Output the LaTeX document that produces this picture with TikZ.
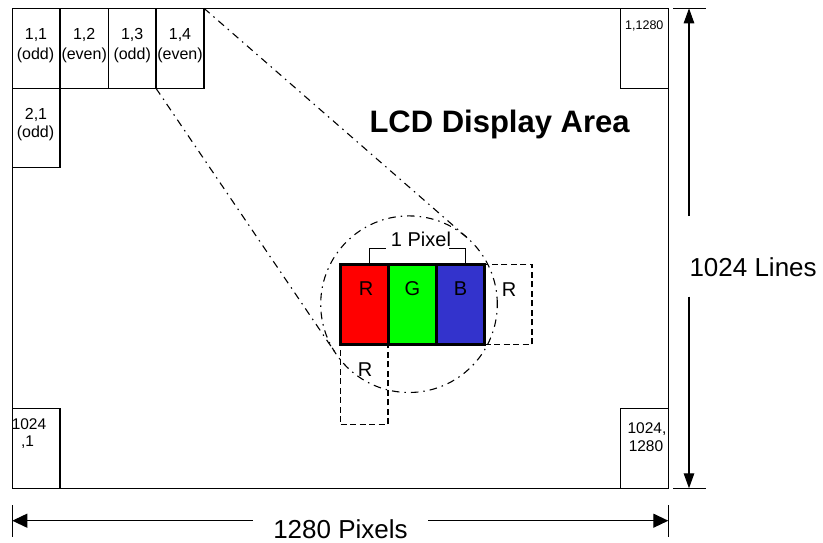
\documentclass[tikz,border=0pt]{standalone}
\usepackage{fontspec}
\setmainfont{Liberation Sans}
\usetikzlibrary{arrows.meta}
\definecolor{pxred}{RGB}{255,0,0}
\definecolor{pxgreen}{RGB}{0,255,0}
\definecolor{pxblue}{RGB}{51,51,204}
\begin{document}
\begin{tikzpicture}[x=1pt,y=-1pt,
  box/.style={draw, line width=1.2pt, inner sep=0pt, outer sep=0pt, anchor=north west},
  subpix/.style={draw, line width=2.7pt, inner sep=0pt, outer sep=0pt, anchor=north west, minimum width=48pt, minimum height=79.8pt},
  dashbox/.style={draw, line width=1.2pt, dash pattern=on 6pt off 3.5pt, inner sep=0pt, outer sep=0pt, anchor=north west},
  dashdot/.style={line width=1.1pt, dash pattern=on 7.5pt off 5pt on 1.5pt off 5pt},
  celltxt/.style={inner sep=0pt, outer sep=0pt, anchor=base, font=\fontsize{16}{18}\selectfont},
  cellsmall/.style={inner sep=0pt, outer sep=0pt, anchor=base, font=\fontsize{15.5}{18}\selectfont},
  bigtxt/.style={inner sep=0pt, outer sep=0pt, font=\fontsize{26}{30}\selectfont},
  rgbtxt/.style={inner sep=0pt, outer sep=0pt, anchor=base, font=\fontsize{20}{24}\selectfont},
  dimline/.style={line width=1.2pt},
  varrow/.style={dimline, -{Triangle[length=15pt,width=10.5pt]}},
  harrow/.style={dimline, -{Triangle[length=15pt,width=14pt]}}]
\useasboundingbox (0,0) rectangle (823,542);

% main display area
\node[box, minimum width=656pt, minimum height=480pt] (lcd) at (12.3,8.3) {};

% corner cells
\node[box, minimum width=47.7pt, minimum height=80pt] (c11) at (12.3,8.3) {};
\node[box, minimum width=48.3pt, minimum height=80pt] (c12) at (60,8.3) {};
\node[box, minimum width=47.7pt, minimum height=80pt] (c13) at (108.3,8.3) {};
\node[box, minimum width=48pt, minimum height=80pt] (c14) at (156,8.3) {};
\node[box, minimum width=47.7pt, minimum height=79.4pt] (c21) at (12.3,88.3) {};
\node[box, minimum width=47.8pt, minimum height=80pt] (c1e) at (620.5,8.3) {};
\node[box, minimum width=47.7pt, minimum height=80pt] (cb1) at (12.3,408.3) {};
\node[box, minimum width=48pt, minimum height=80pt] (cbe) at (620.3,408.3) {};

\node[celltxt] (t11a) at (36,39.5) {1,1};
\node[celltxt] (t11b) at (35.5,59) {(odd)};
\node[celltxt] (t12a) at (84.2,39.5) {1,2};
\node[celltxt] (t12b) at (84.2,59) {(even)};
\node[celltxt] (t13a) at (132.2,39.5) {1,3};
\node[celltxt] (t13b) at (132.2,59) {(odd)};
\node[celltxt] (t14a) at (180,39.5) {1,4};
\node[celltxt] (t14b) at (180,59) {(even)};
\node[celltxt] (t21a) at (36,119.5) {2,1};
\node[celltxt] (t21b) at (35.5,137.5) {(odd)};
\node[inner sep=0pt, anchor=base, font=\fontsize{12.5}{15}\selectfont] (t1e) at (644.3,29.5) {1,1280};
\node[cellsmall] (tb1a) at (29,429) {1024};
\node[cellsmall] (tb1b) at (27.5,446.5) {,1};
\node[cellsmall] (tbea) at (647,433.3) {1024,};
\node[cellsmall] (tbeb) at (646,451.7) {1280};

% title
\node[inner sep=0pt, outer sep=0pt, anchor=base west, font=\bfseries\fontsize{31}{36}\selectfont] (title) at (369.5,132.7) {LCD Display Area};

% magnifier circle and tangents
\node[circle, draw, dashdot, minimum size=176.6pt, inner sep=0pt, outer sep=0pt] (zoomc) at (409,304.2) {};
\coordinate (tanA) at (467.1,237.6);
\coordinate (tanB) at (336.0,353.7);
\draw[dashdot] (c14.north east) -- (tanA);
\draw[dashdot] (c14.south west) -- (tanB);

% neighbouring sub-pixels (dashed)
\node[dashbox, minimum width=47.5pt, minimum height=79.8pt] (rnext) at (484.5,264.5) {};
\node[dashbox, minimum width=47.5pt, minimum height=80pt] (rbelow) at (340.5,344.3) {};

% the pixel
\node[subpix, fill=pxred] (pr) at (340.5,264.5) {};
\node[subpix, fill=pxgreen] (pg) at (388.5,264.5) {};
\node[subpix, fill=pxblue] (pb) at (436.5,264.5) {};

\node[rgbtxt] (lr) at (366,295) {R};
\node[rgbtxt] (lg) at (412.5,295) {G};
\node[rgbtxt] (lb) at (460.5,295) {B};
\node[rgbtxt] (lrn) at (509,296) {R};
\node[rgbtxt] (lrb) at (365,376.7) {R};

% bracket
\coordinate (brL) at (369.3,263);
\coordinate (brR) at (465.7,263);
\draw[dimline] (brL) -- (369.3,248.3) -- (386,248.3);
\draw[dimline] (449.3,248.3) -- (465.7,248.3) -- (brR);
\node[rgbtxt] (pixlbl) at (421,246) {1 Pixel};

% vertical dimension
\coordinate (vt) at (689,8.3);
\coordinate (vb) at (689,488.3);
\coordinate (vg1) at (689,216);
\coordinate (vg2) at (689,296.7);
\draw[dimline] (673.3,8.3) -- (706,8.3);
\draw[dimline] (673.3,488.3) -- (706,488.3);
\draw[varrow] (vg1) -- (vt);
\draw[varrow] (vg2) -- (vb);
\node[bigtxt, anchor=base west] (lines) at (689.5,276) {1024 Lines};

% horizontal dimension
\coordinate (hl) at (12.3,520.7);
\coordinate (hr) at (668.3,520.7);
\coordinate (hg1) at (252.7,520.7);
\coordinate (hg2) at (428.3,520.7);
\draw[dimline] (12.3,505) -- (12.3,536.7);
\draw[dimline] (668.3,505) -- (668.3,536.7);
\draw[harrow] (hg1) -- (hl);
\draw[harrow] (hg2) -- (hr);
\node[bigtxt, anchor=base] (pixels) at (340.5,538) {1280 Pixels};
\end{tikzpicture}
\end{document}
